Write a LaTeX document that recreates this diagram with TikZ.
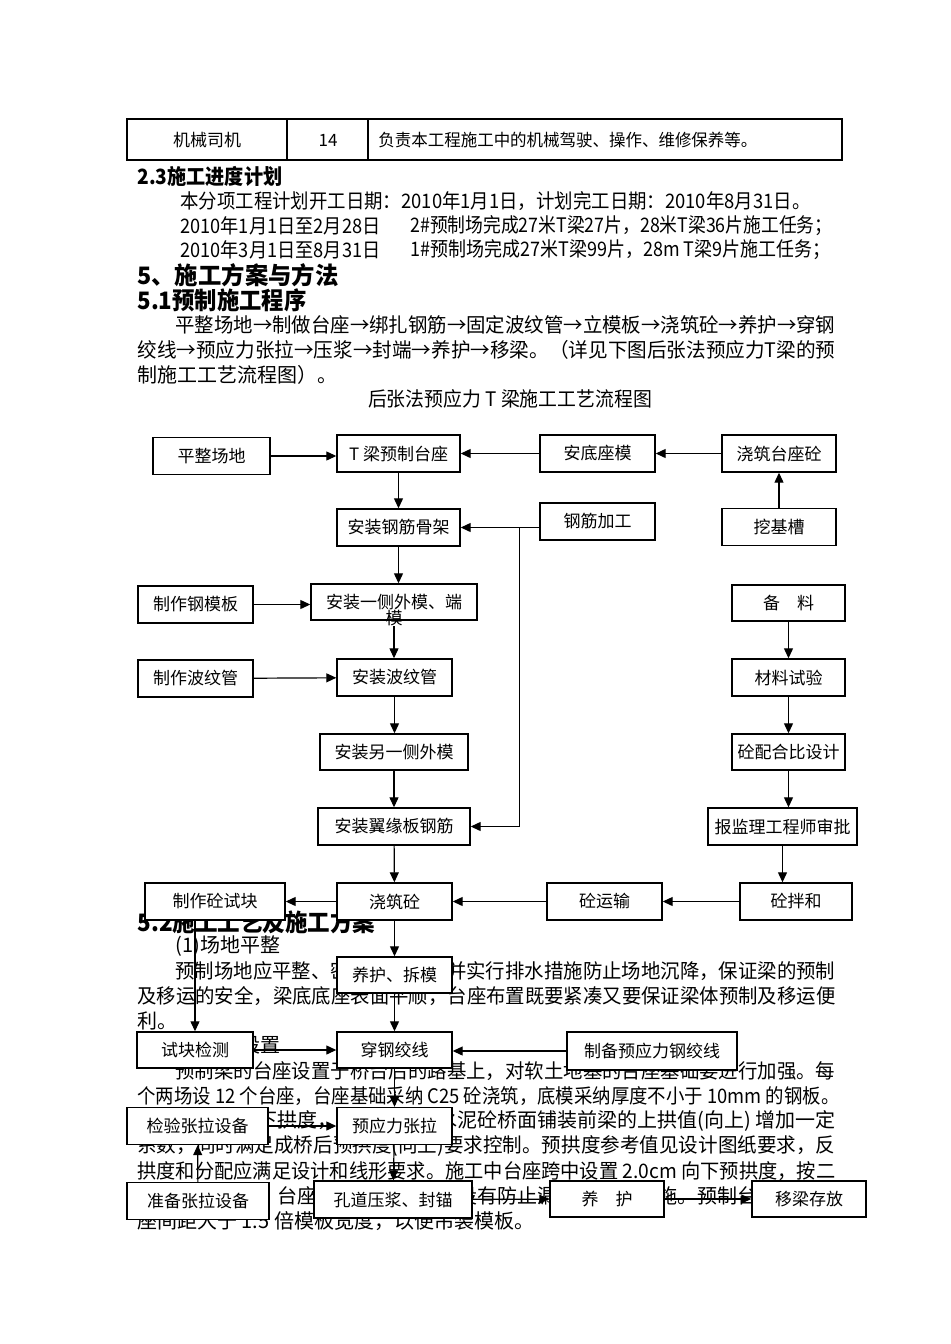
\documentclass[tikz,border=0pt]{standalone}
\usepackage{fontspec}
\usepackage{graphicx}
\newfontfamily\cjk{Noto Sans CJK SC}
\usetikzlibrary{arrows.meta}
\newcommand{\fitw}[2]{\resizebox{#1}{\height}{#2}}
\tikzset{
  box/.style={draw, fill=white, line width=0.7pt, minimum height=18.5pt, inner sep=1pt,
    font=\cjk\fontsize{8.5}{10}\selectfont},
  tab/.style={inner sep=0pt, font=\cjk\fontsize{8.5}{10}\selectfont},
  txt/.style={anchor=west, inner sep=0pt, font=\cjk\fontsize{10}{12}\selectfont},
  hd/.style={anchor=west, inner sep=0pt, font=\cjk\bfseries\fontsize{12}{14}\selectfont},
  link/.style={->, line width=0.6pt},
}
\begin{document}
\begin{tikzpicture}[x=0.5pt,y=-0.5pt,>={Triangle[length=5pt,width=4.5pt]}]
\fill[white] (0,0) rectangle (950,1344);
\useasboundingbox (0,0) rectangle (950,1344);
% table row
\draw[line width=1.2pt] (127,119) rectangle (842,160);
\draw[line width=0.8pt] (287,119) -- (287,160) (368,119) -- (368,160);
\node[tab] (gz) at (207,140) {机械司机};
\node[tab] (rs) at (328,140) {14};
\node[tab,anchor=west] (zz) at (378,140) {\fitw{189.5pt}{负责本工程施工中的机械驾驶、操作、维修保养等。}};
% text of the page
\node[hd,font=\cjk\bfseries\fontsize{10.5}{12}\selectfont] (h23) at (137,176) {\fitw{72.5pt}{2.3施工进度计划}};
\node[txt] (t1) at (180,201) {\fitw{315pt}{本分项工程计划开工日期：2010年1月1日，计划完工日期：2010年8月31日。}};
\node[txt] (t2) at (180,226) {\fitw{100pt}{2010年1月1日至2月28日}};
\node[txt] (t2b) at (410,226) {\fitw{211pt}{2\#预制场完成27米T梁27片，28米T梁36片施工任务；}};
\node[txt] (t3) at (180,250) {\fitw{100pt}{2010年3月1日至8月31日}};
\node[txt] (t3b) at (410,250) {\fitw{210pt}{1\#预制场完成27米T梁99片，28m T梁9片施工任务；}};
\node[hd] (h5) at (137,275) {\fitw{100.5pt}{5、施工方案与方法}};
\node[hd] (h51) at (137,300) {\fitw{84.5pt}{5.1预制施工程序}};
\node[txt] (p1) at (175,325) {\fitw{330pt}{平整场地→制做台座→绑扎钢筋→固定波纹管→立模板→浇筑砼→养护→穿钢}};
\node[txt] (p2) at (137,350) {\fitw{349pt}{绞线→预应力张拉→压浆→封端→养护→移梁。（详见下图后张法预应力T梁的预}};
\node[txt] (p3) at (137,375) {制施工工艺流程图）。};
\node[txt,anchor=center] (tt) at (510,399) {\fitw{142pt}{后张法预应力 T 梁施工工艺流程图}};
\node[hd] (h52) at (137,922) {\fitw{119pt}{5.2施工工艺及施工方案}};
\node[txt] (s1) at (175,946) {(1)场地平整};
\node[txt] (q1) at (175,971) {\fitw{330pt}{预制场地应平整、密实、坚固，并实行排水措施防止场地沉降，保证梁的预制}};
\node[txt] (q2) at (137,996) {\fitw{349pt}{及移运的安全，梁底底座表面平顺，台座布置既要紧凑又要保证梁体预制及移运便}};
\node[txt] (q3) at (137,1021) {利。};
\node[txt] (s2) at (175,1046) {(2)台座设置};
\node[txt] (r1) at (175,1071) {\fitw{330pt}{预制梁的台座设置于桥台后的路基上，对软土地基的台座基础要进行加强。每}};
\node[txt] (r2) at (137,1096) {\fitw{351pt}{个两场设 12 个台座，台座基础采纳 C25 砼浇筑，底模采纳厚度不小于 10mm 的钢板。}};
\node[txt] (r3) at (137,1121) {\fitw{349pt}{台座顶面设置下拱度，其值为考虑水泥砼桥面铺装前梁的上拱值(向上) 增加一定}};
\node[txt] (r4) at (137,1146) {\fitw{349pt}{系数，同时满足成桥后预拱度(向上)要求控制。预拱度参考值见设计图纸要求，反}};
\node[txt] (r5) at (137,1171) {\fitw{349pt}{拱度和分配应满足设计和线形要求。施工中台座跨中设置 2.0cm 向下预拱度，按二}};
\node[txt] (r6) at (137,1196) {次抛物线设置，台座两端底模接缝处设有防止漏浆的可靠措施。预制台座与台};
\node[txt] (r7) at (137,1221) {座间距大于 1.5 倍模板宽度，以便吊装模板。};
% flow chart boxes
\node[box,minimum width=58.5pt] (pzcd) at (211.5,456) {平整场地};
\node[box,minimum width=61.5pt] (tlzt) at (398.5,453.5) {T 梁预制台座};
\node[box,minimum width=57.5pt] (adzm) at (597.5,453.5) {安底座模};
\node[box,minimum width=57pt] (jztz) at (779,453.5) {浇筑台座砼};
\node[box,minimum width=57.5pt] (jjjg) at (597.5,521.5) {钢筋加工};
\node[box,minimum width=57pt] (wjc) at (779,527) {挖基槽};
\node[box,minimum width=61.5pt] (azgj) at (398.5,527.5) {安装钢筋骨架};
\node[box,minimum width=83pt,minimum height=18pt] (ycwm) at (394,602) {安装一侧外模、端};
\node[inner sep=0pt,font=\cjk\fontsize{8.5}{10}\selectfont] (ycwm2) at (394,618) {模};
\node[box,minimum width=57.5pt] (zzgmb) at (195.5,604.5) {制作钢模板};
\node[box,minimum width=56.5pt,minimum height=18pt] (bl) at (788.5,603) {备\quad 料};
\node[box,minimum width=57.5pt] (zzbwg) at (195.5,678.5) {制作波纹管};
\node[box,minimum width=57.5pt] (azbwg) at (394.5,677.5) {安装波纹管};
\node[box,minimum width=56.5pt] (clsy) at (788.5,677.5) {材料试验};
\node[box,minimum width=74pt,minimum height=18pt] (lcwm) at (394,752) {安装另一侧外模};
\node[box,minimum width=56.5pt,minimum height=18pt] (phb) at (788.5,752) {砼配合比设计};
\node[box,minimum width=76pt] (yyb) at (394,826.5) {安装翼缘板钢筋};
\node[box,minimum width=74.5pt] (bjl) at (782.5,826.5) {报监理工程师审批};
\node[box,minimum width=70pt] (zzsk) at (215,901.5) {制作砼试块};
\node[box,minimum width=57.5pt] (jzt) at (394.5,901.5) {浇筑砼};
\node[box,minimum width=57.5pt] (tys) at (604.5,901.5) {砼运输};
\node[box,minimum width=56pt] (tbh) at (796,901.5) {砼拌和};
\node[box,minimum width=57.5pt,minimum height=18pt] (yhcm) at (394.5,975) {养护、拆模};
\node[box,minimum width=58pt,minimum height=18pt] (skjc) at (195,1050) {试块检测};
\node[box,minimum width=57.5pt,minimum height=18pt] (cgjx) at (394.5,1050) {穿钢绞线};
\node[box,minimum width=85pt,minimum height=19pt] (zbgjx) at (652,1051) {制备预应力钢绞线};
\node[box,minimum width=70.5pt] (jyzl) at (197.5,1126) {检验张拉设备};
\node[box,minimum width=57.5pt] (yylzl) at (394.5,1126) {预应力张拉};
\node[box,minimum width=71pt] (zbzl) at (198,1201) {准备张拉设备};
\node[box,minimum width=79pt] (kdyj) at (393,1199.5) {孔道压浆、封锚};
\node[box,minimum width=57pt,minimum height=18pt] (yh) at (607,1199) {养\quad 护};
\node[box,minimum width=57pt,minimum height=18pt] (ylcf) at (809,1199) {移梁存放};
% connectors
\draw[link] (pzcd.east) -- (pzcd.east -| tlzt.west);
\draw[link] (adzm) -- (tlzt);
\draw[link] (jztz) -- (adzm);
\draw[link] (wjc) -- (jztz);
\draw[link] (tlzt) -- (azgj);
\draw[link] (jjjg.west |- azgj.east) -- (azgj.east);
\coordinate (gjzd) at ([xshift=-10pt]jjjg.west |- azgj.east);
\draw[link] (gjzd) |- (yyb.east);
\draw[link] (azgj.south) -- (azgj.south |- ycwm.north);
\draw[link] (zzgmb.east) -- (zzgmb.east -| ycwm.west);
\draw[link] (ycwm2.south -| ycwm.south) -- (ycwm.south |- azbwg.north);
\draw[link] (zzbwg) -- (azbwg);
\draw[link] (azbwg.south) -- (azbwg.south |- lcwm.north);
\draw[link] (lcwm) -- (yyb);
\draw[link] (yyb) -- (jzt);
\draw[link] (bl) -- (clsy);
\draw[link] (clsy) -- (phb);
\draw[link] (phb.south) -- (phb.south |- bjl.north);
\draw[link] (bjl.south) -- (bjl.south |- tbh.north);
\draw[link] (tbh) -- (tys);
\draw[link] (tys) -- (jzt);
\draw[link] (jzt) -- (zzsk);
\draw[link] (jzt) -- (yhcm);
\draw[link] (skjc.north |- zzsk.south) -- (skjc.north);
\draw[link] (yhcm) -- (cgjx);
\draw[link] (skjc) -- (cgjx);
\draw[link] (zbgjx.west) -- (zbgjx.west -| cgjx.east);
\draw[link] (cgjx) -- (yylzl);
\draw[link] (jyzl) -- (yylzl);
\draw[link] (zbzl) -- (jyzl);
\draw[link] (yylzl) -- (kdyj);
\draw[link] (kdyj) -- (yh);
\draw[link] (yh) -- (ylcf);
\end{tikzpicture}
\end{document}
